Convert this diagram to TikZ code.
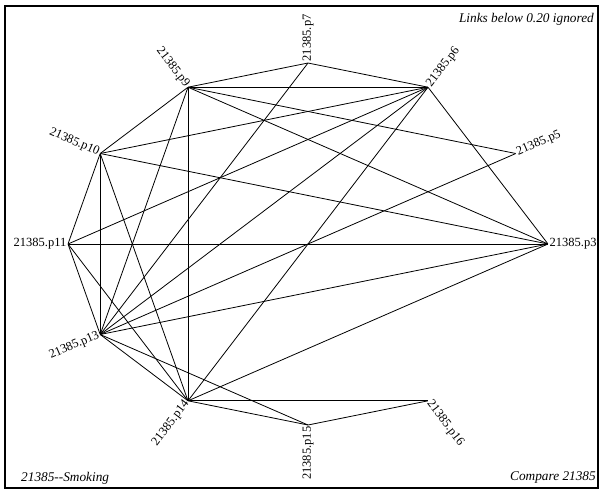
\documentclass[tikz,border=0pt]{standalone}
\usepackage{fontspec}
\setmainfont{Liberation Serif}
\begin{document}
\begin{tikzpicture}[x=1pt,y=1pt,
    pt/.style={inner sep=0pt,minimum size=0pt},
    tag/.style={inner sep=1.5pt,font=\fontsize{12.5}{14}\selectfont},
    note/.style={inner sep=0pt,font=\fontsize{13.3}{15}\selectfont\itshape},
    link/.style={black,line width=0.8pt}]
\useasboundingbox (0,0) rectangle (603,-491);
\draw [black,line width=2.2pt] (5,-6) rectangle (598,-488);
\node[pt] (p3) at (548,-244) {};
\node[pt] (p5) at (515.8,-153.5) {};
\node[pt] (p6) at (428,-87.2) {};
\node[pt] (p7) at (308,-63) {};
\node[pt] (p9) at (188,-87.2) {};
\node[pt] (p10) at (100.2,-153.5) {};
\node[pt] (p11) at (68,-244) {};
\node[pt] (p13) at (100.2,-334.5) {};
\node[pt] (p14) at (188,-400.8) {};
\node[pt] (p15) at (308,-425) {};
\node[pt] (p16) at (428,-400.8) {};
\node[tag,anchor=west] (t3) at (p3) {21385.p3};
\node[tag,anchor=west,rotate=23.5] (t5) at (p5) {21385.p5};
\node[tag,anchor=west,rotate=52.6] (t6) at (p6) {21385.p6};
\node[tag,anchor=west,rotate=90] (t7) at (p7) {21385.p7};
\node[tag,anchor=east,rotate=-52.6] (t9) at (p9) {21385.p9};
\node[tag,anchor=east,rotate=-23.5] (t10) at (p10) {21385.p10};
\node[tag,anchor=east] (t11) at (p11) {21385.p11};
\node[tag,anchor=east,rotate=23.5] (t13) at (p13) {21385.p13};
\node[tag,anchor=east,rotate=52.6] (t14) at (p14) {21385.p14};
\node[tag,anchor=east,rotate=90] (t15) at (p15) {21385.p15};
\node[tag,anchor=west,rotate=-52.6] (t16) at (p16) {21385.p16};
\draw [link] (p9) -- (p7);
\draw [link] (p9) -- (p6);
\draw [link] (p9) -- (p5);
\draw [link] (p9) -- (p3);
\draw [link] (p9) -- (p10);
\draw [link] (p9) -- (p13);
\draw [link] (p9) -- (p14);
\draw [link] (p7) -- (p6);
\draw [link] (p7) -- (p13);
\draw [link] (p6) -- (p10);
\draw [link] (p6) -- (p11);
\draw [link] (p6) -- (p13);
\draw [link] (p6) -- (p14);
\draw [link] (p6) -- (p3);
\draw [link] (p10) -- (p3);
\draw [link] (p10) -- (p11);
\draw [link] (p10) -- (p13);
\draw [link] (p10) -- (p14);
\draw [link] (p11) -- (p3);
\draw [link] (p11) -- (p13);
\draw [link] (p11) -- (p14);
\draw [link] (p5) -- (p13);
\draw [link] (p3) -- (p13);
\draw [link] (p3) -- (p14);
\draw [link] (p13) -- (p14);
\draw [link] (p13) -- (p15);
\draw [link] (p14) -- (p15);
\draw [link] (p14) -- (p16);
\draw [link] (p15) -- (p16);
\node[note,anchor=east] (ignored) at (594,-19) {Links below 0.20 ignored};
\node[note,anchor=west] (title) at (21,-478) {21385-{}-Smoking};
\node[note,anchor=east] (compare) at (596,-477) {Compare 21385};
\end{tikzpicture}
\end{document}
